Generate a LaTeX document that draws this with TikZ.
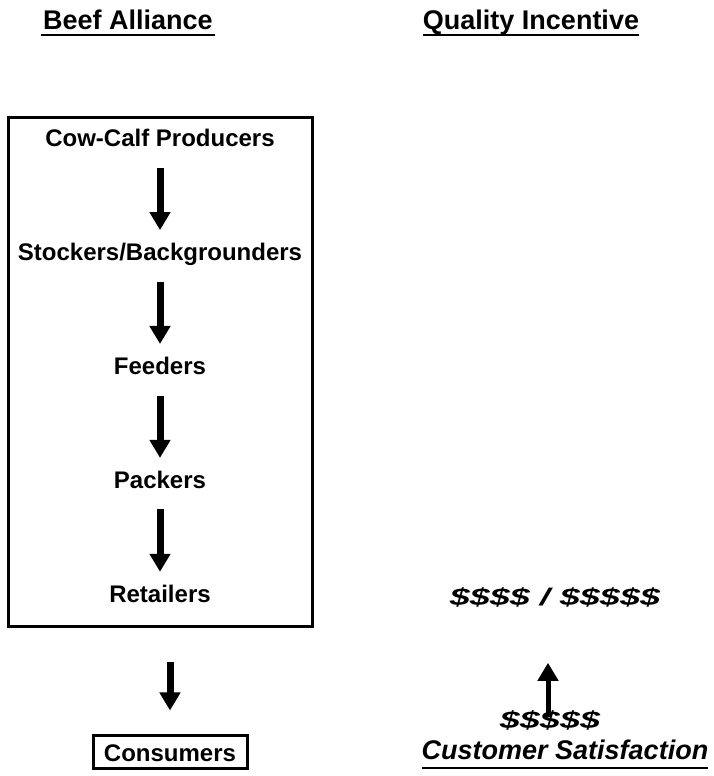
\documentclass[tikz,border=0pt]{standalone}
\usepackage{fontspec}
\setmainfont{Liberation Sans}
\newfontfamily\widesans[FakeStretch=1.5]{Liberation Sans}
\usepackage{tikz}
\usetikzlibrary{arrows.meta,positioning,calc}

\begin{document}
\begin{tikzpicture}[
  x=1pt, y=1pt,
  node distance = 96.3pt,
  stage/.style  = {inner sep=0pt, text height=17.2pt, text depth=0pt,
                   font=\fontsize{24}{28}\selectfont\bfseries},
  heading/.style = {inner sep=0pt, text height=19.3pt, text depth=0pt,
                   font=\fontsize{27}{32}\selectfont\bfseries},
  money/.style  = {inner sep=0pt, text height=17.2pt, text depth=0pt,
                   font=\widesans\fontsize{24}{28}\selectfont\bfseries\itshape},
  panel/.style  = {draw, line width=3pt, inner sep=0pt},
  flow/.style   = {-{Triangle[width=20pt,length=18pt]}, line width=7pt},
  uline/.style  = {line width=2.5pt}
]
  \useasboundingbox (0,0) rectangle (713,776);

  % Column 1: headings + supply chain
  \node[heading] (beef) at (128,756) {Beef Alliance};
  \node[stage] (cow) at (160,638) {Cow-Calf Producers};
  \node[stage, below=of cow]   (stock) {Stockers/Backgrounders};
  \node[stage, below=of stock] (feed)  {Feeders};
  \node[stage, below=of feed]  (pack)  {Packers};
  \node[stage, below=of pack]  (ret)   {Retailers};
  \node[panel, minimum width=304pt, minimum height=509pt] (alliance) at (160,403.5) {};
  \node[panel, stage, minimum width=154pt, minimum height=33pt] (cons) at (170,23.5) {Consumers};

  % Column 2: incentive
  \node[heading] (qual) at (531,756) {Quality Incentive};
  \node[money] (price) at (555,179) {\$\$\$\$ / \$\$\$\$\$};
  \node[money] (paid)  at (550,56)  {\$\$\$\$\$};
  \node[heading, font=\fontsize{27}{32}\selectfont\bfseries\itshape] (sat) at (565,26) {Customer Satisfaction};

  % Underlines
  \draw[uline] ($(beef.south west)+(-2,-5)$) -- ($(beef.south east)+(2,-5)$);
  \draw[uline] ($(qual.south west)+(0,-5)$)  -- ($(qual.south east)+(0,-5)$);
  \draw[uline] ($(sat.south west)+(0,-8)$)   -- ($(sat.south east)+(0,-8)$);

  % Downward chain
  \draw[flow, shorten <=21pt, shorten >=13pt] (cow)   -- (stock);
  \draw[flow, shorten <=21pt, shorten >=13pt] (stock) -- (feed);
  \draw[flow, shorten <=21pt, shorten >=13pt] (feed)  -- (pack);
  \draw[flow, shorten <=21pt, shorten >=13pt] (pack)  -- (ret);
  \draw[flow, shorten <=34pt, shorten >=24pt] (cons.north |- alliance.south) -- (cons.north);

  % Upward payment
  \draw[flow, line width=5pt, shorten <=3pt, shorten >=57pt]
    ($(paid.center)+(-2,0)$) -- ($(paid.center |- price.south)+(-2,0)$);
\end{tikzpicture}
\end{document}
